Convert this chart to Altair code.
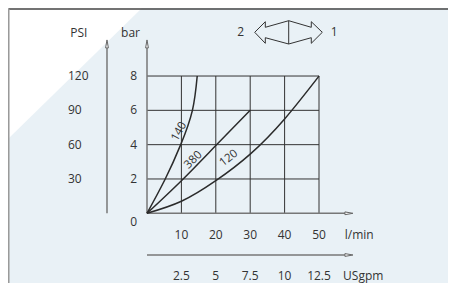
import altair as alt
import pandas as pd

# ---- data ----
bar_ticks = [2, 4, 6, 8]
psi_labels = ["30", "60", "90", "120"]
lmin_ticks = [10, 20, 30, 40, 50]
usgpm_labels = ["2.5", "5", "7.5", "10", "12.5"]
usgpm_values = [2.5, 5, 7.5, 10, 12.5]
grid_x = [10, 20, 30, 40, 50]
grid_y = [2, 4, 6, 8]

curve140_q = [0, 5.3, 9.8, 13.2, 14.6]
curve140_p = [0, 2, 4, 6, 8]
curve380_q = [0, 10, 20, 30]
curve380_p = [0, 1.9, 3.95, 6]
curve120_q = [0, 10, 20, 30, 40, 50]
curve120_p = [0, 0.7, 1.9, 3.45, 5.5, 8]

curve_names = ["140", "380", "120"]
curve_label_q = [9.4, 13.5, 23.8]
curve_label_p = [4.75, 3.1, 3.2]
curve_label_angle = [299, 315, 322]

# direction symbol (2 <=> 1), in chart units
symbol_x = [31.31, 34.39, 34.39, 41.19, 47.76, 47.76, 50.96, 47.76, 47.76, 41.19, 34.39, 34.39, 31.31]
symbol_y = [10.548, 11.166, 10.839, 11.224, 10.839, 11.166, 10.548, 9.907, 10.233, 9.866, 10.233, 9.907, 10.548]

XS = alt.Scale(domain=[-40.407, 87.5], nice=False, zero=False)
YS = alt.Scale(domain=[-4.062, 11.964], nice=False, zero=False)
FONT = "Open Sans"
TXT = "#333333"


def X(f="x", t="quantitative"):
    return alt.X(f, type=t, scale=XS, axis=None)


def Y(f="y", t="quantitative"):
    return alt.Y(f, type=t, scale=YS, axis=None)


# background white corner
bg_df = pd.DataFrame({"x": [-40.407, -1.45], "y": [11.964, 11.964], "y2": [4.33, 11.964]})
bg = alt.Chart(bg_df).mark_area(color="white").encode(x=X(), y=Y(), y2="y2")

# frame
frame_top = alt.Chart(pd.DataFrame({"x": [-40.3], "x2": [87.5], "y": [11.906]})).mark_rule(
    color="#444", strokeWidth=1.5).encode(x=X(), x2="x2", y=Y())
frame_left = alt.Chart(pd.DataFrame({"x": [-40.25], "y": [11.906], "y2": [-4.062]})).mark_rule(
    color="#9a9a9a", strokeWidth=2).encode(x=X(), y=Y(), y2="y2")

# grid
gv = alt.Chart(pd.DataFrame({"x": grid_x, "y": [0] * 5, "y2": [8] * 5})).mark_rule(
    color="#333", strokeWidth=1).encode(x=X(), y=Y(), y2="y2")
gh = alt.Chart(pd.DataFrame({"y": grid_y, "x": [0] * 4, "x2": [50] * 4})).mark_rule(
    color="#333", strokeWidth=1).encode(y=Y(), x=X(), x2="x2")

# axis lines
ax_v = alt.Chart(pd.DataFrame({"x": [0, -11.63], "y": [0, 0], "y2": [9.87, 9.87]})).mark_rule(
    color="#777", strokeWidth=1.5).encode(x=X(), y=Y(), y2="y2")
ax_h = alt.Chart(pd.DataFrame({"y": [0, -2.43], "x": [0, 0], "x2": [58.7, 58.7]})).mark_rule(
    color="#777", strokeWidth=1.5).encode(y=Y(), x=X(), x2="x2")
arr_up = alt.Chart(pd.DataFrame({"x": [0, -11.63], "y": [9.87, 9.87]})).mark_point(
    shape="M0,-1L0.35,1L-0.35,1Z", size=64, filled=True, fill="white", stroke="#666",
    strokeWidth=1, opacity=1).encode(x=X(), y=Y())
arr_right = alt.Chart(pd.DataFrame({"x": [58.7, 58.7], "y": [0, -2.43]})).mark_point(
    shape="M1,0L-1,0.35L-1,-0.35Z", size=64, filled=True, fill="white", stroke="#666",
    strokeWidth=1, opacity=1).encode(x=X(), y=Y())

# curves
rows = []
for name, qs, ps in [("140", curve140_q, curve140_p), ("380", curve380_q, curve380_p),
                     ("120", curve120_q, curve120_p)]:
    for i, (q, p) in enumerate(zip(qs, ps)):
        rows.append({"curve": name, "i": i, "x": q, "y": p})
curves = alt.Chart(pd.DataFrame(rows)).mark_line(
    color="#2b2b2b", strokeWidth=1.5, interpolate="natural").encode(
    x=X(), y=Y(), detail="curve:N", order="i:Q")

# curve labels
clabels = []
for n, q, p, a in zip(curve_names, curve_label_q, curve_label_p, curve_label_angle):
    clabels.append(alt.Chart(pd.DataFrame({"x": [q], "y": [p], "t": [n]})).mark_text(
        font=FONT, fontSize=11.5, color=TXT, angle=a, align="center", baseline="middle").encode(
        x=X(), y=Y(), text="t:N"))

# tick labels
psi = alt.Chart(pd.DataFrame({"y": bar_ticks, "t": psi_labels, "x": [-22.97] * 4})).mark_text(
    font=FONT, fontSize=12, color=TXT, align="left", baseline="middle").encode(x=X(), y=Y(), text="t:N")
bar = alt.Chart(pd.DataFrame({"y": bar_ticks, "t": [str(v) for v in bar_ticks], "x": [-2.9] * 4})).mark_text(
    font=FONT, fontSize=12, color=TXT, align="right", baseline="middle").encode(x=X(), y=Y(), text="t:N")
bar0 = alt.Chart(pd.DataFrame({"y": [0], "t": ["0"], "x": [-2.9]})).mark_text(
    font=FONT, fontSize=12, color=TXT, align="right", baseline="middle", dy=9).encode(x=X(), y=Y(), text="t:N")
lmin = alt.Chart(pd.DataFrame({"x": lmin_ticks, "t": [str(v) for v in lmin_ticks], "y": [-1.27] * 5})).mark_text(
    font=FONT, fontSize=12, color=TXT, align="center", baseline="middle").encode(x=X(), y=Y(), text="t:N")
usg = alt.Chart(pd.DataFrame({"x": [v * 4 for v in usgpm_values], "t": usgpm_labels, "y": [-3.65] * 5})).mark_text(
    font=FONT, fontSize=12, color=TXT, align="center", baseline="middle").encode(x=X(), y=Y(), text="t:N")

titles_c = alt.Chart(pd.DataFrame({
    "x": [-19.8, -4.8, 27.2, 54.4],
    "y": [10.5, 10.5, 10.56, 10.56],
    "t": ["PSI", "bar", "2", "1"],
})).mark_text(font=FONT, fontSize=12, color=TXT, baseline="middle", align="center").encode(
    x=X(), y=Y(), text="t:N")
titles_l = alt.Chart(pd.DataFrame({
    "x": [57.5, 57.0],
    "y": [-1.27, -3.65],
    "t": ["l/min", "USgpm"],
})).mark_text(font=FONT, fontSize=12, color=TXT, baseline="middle", align="left").encode(
    x=X(), y=Y(), text="t:N")

sym_df = pd.DataFrame({"x": symbol_x, "y": symbol_y, "i": list(range(len(symbol_x)))})
sym = alt.Chart(sym_df).mark_line(color="#333", strokeWidth=1).encode(x=X(), y=Y(), order="i:Q")
sym_mid = alt.Chart(pd.DataFrame({"x": [41.19], "y": [11.224], "y2": [9.866]})).mark_rule(
    color="#333", strokeWidth=1).encode(x=X(), y=Y(), y2="y2")

chart = alt.layer(
    bg, frame_top, frame_left, gv, gh, ax_v, ax_h, arr_up, arr_right, curves, *clabels,
    psi, bar, bar0, lmin, usg, titles_c, titles_l, sym, sym_mid
).properties(
    width=440, height=275, autosize="none", padding=0, background="#e9f1f6"
).configure_view(strokeWidth=0)

chart.save("out.html", embed_options={"renderer": "svg", "actions": False})
